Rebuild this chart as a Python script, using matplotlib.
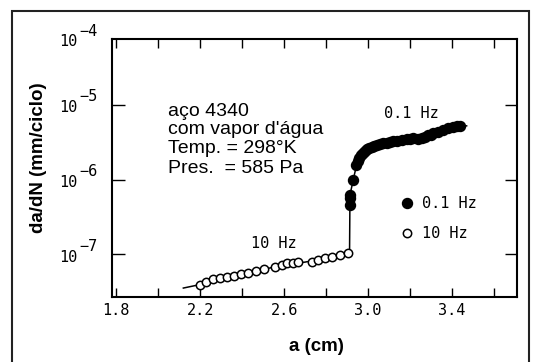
import matplotlib
matplotlib.use("Agg")
import matplotlib.pyplot as plt
from matplotlib.patches import Rectangle
from matplotlib.lines import Line2D

# Dados (a em cm, da/dN em mm/ciclo)
a_10hz = [2.197, 2.229, 2.263, 2.295, 2.330, 2.363, 2.395, 2.430, 2.467, 2.505, 2.557,
          2.589, 2.616, 2.644, 2.668, 2.732, 2.763, 2.795, 2.827, 2.867, 2.906]
v_10hz = [3.83e-8, 4.26e-8, 4.58e-8, 4.81e-8, 4.97e-8, 5.13e-8, 5.35e-8, 5.61e-8, 5.91e-8,
          6.24e-8, 6.64e-8, 7.13e-8, 7.50e-8, 7.64e-8, 7.88e-8, 7.88e-8, 8.31e-8, 8.75e-8,
          9.2e-8, 9.7e-8, 1.02e-7]

a_01hz = [2.912, 2.913, 2.915, 2.930, 2.943, 2.950, 2.959, 2.968, 2.978, 2.986, 2.994,
          3.006, 3.018, 3.030, 3.041, 3.057, 3.073, 3.089, 3.105, 3.121, 3.137, 3.160,
          3.184, 3.200, 3.215, 3.236, 3.256, 3.272, 3.286, 3.300, 3.311, 3.335, 3.358,
          3.382, 3.406, 3.422, 3.438]
v_01hz = [4.5e-7, 5.6e-7, 6.2e-7, 9.8e-7, 1.56e-6, 1.75e-6, 1.92e-6, 2.1e-6, 2.24e-6,
          2.4e-6, 2.53e-6, 2.65e-6, 2.74e-6, 2.82e-6, 2.89e-6, 2.97e-6, 3.05e-6, 3.12e-6,
          3.20e-6, 3.25e-6, 3.30e-6, 3.38e-6, 3.45e-6, 3.50e-6, 3.56e-6, 3.52e-6, 3.56e-6,
          3.70e-6, 3.94e-6, 4.0e-6, 4.15e-6, 4.35e-6, 4.59e-6, 4.85e-6, 5.08e-6, 5.15e-6,
          5.2e-6]

# curva ajustada
curve_a = [2.12, 2.20, 2.30, 2.40, 2.50, 2.60, 2.70, 2.80, 2.912, 2.914, 2.930, 2.945,
           2.960, 2.980, 3.00, 3.05, 3.10, 3.20, 3.26, 3.30, 3.36, 3.40, 3.47]
curve_v = [3.5e-8, 3.9e-8, 4.8e-8, 5.35e-8, 6.2e-8, 7.2e-8, 7.8e-8, 8.8e-8, 1.02e-7,
           6.2e-7, 1.0e-6, 1.55e-6, 1.95e-6, 2.25e-6, 2.55e-6, 2.9e-6, 3.15e-6, 3.45e-6,
           3.6e-6, 3.95e-6, 4.55e-6, 5.0e-6, 5.25e-6]

x_ticks = [1.8, 2.0, 2.2, 2.4, 2.6, 2.8, 3.0, 3.2, 3.4, 3.6]
x_labels = ["1.8", "", "2.2", "", "2.6", "", "3.0", "", "3.4", ""]
y_decades = [1e-5, 1e-6, 1e-7]
y_exps = ["\u22125", "\u22126", "\u22127"]

info_lines = ["aço 4340", "com vapor d'água", "Temp. = 298°K", "Pres.  = 585 Pa"]

W, H = 536, 362
mono = "DejaVu Sans Mono"
sans = "Liberation Sans"


def px(x, y):
    """Converte pixels (origem no topo) em fração da figura."""
    return x / W, 1 - y / H


fig = plt.figure(figsize=(W / 100, H / 100), dpi=100)
ax = fig.add_axes([112 / W, 1 - 297 / H, (517 - 112) / W, (297 - 39) / H])

ax.set_yscale("log")
ax.set_xlim(1.78, 3.71)
ax.set_ylim(10 ** -7.576, 10 ** -4.115)

ax.plot(curve_a, curve_v, color="black", lw=1.1, zorder=2)
ax.plot(a_10hz, v_10hz, "o", ms=6.0, mfc="white", mec="black", mew=1.1, zorder=3)
ax.plot(a_01hz, v_01hz, "o", ms=7.2, mfc="black", mec="black", zorder=3)

for sp in ax.spines.values():
    sp.set_linewidth(1.5)

ax.set_xticks(x_ticks, x_labels, fontfamily=mono, fontsize=11)
ax.tick_params(axis="x", direction="in", length=6.5, width=1.0, top=True, pad=4)
ax.set_yticks(y_decades, ["", "", ""])
ax.yaxis.set_minor_locator(matplotlib.ticker.NullLocator())
ax.tick_params(axis="y", which="major", direction="in", length=9, width=1.0, right=True)

# rótulos 10^n com expoente do mesmo tamanho
for val, ex in zip(y_decades, y_exps):
    ax.annotate("10", xy=(0, val), xycoords=("axes fraction", "data"), xytext=(-35, -3),
                textcoords="offset pixels", ha="right", va="center", fontfamily=mono, fontsize=11)
    ax.annotate(ex, xy=(0, val), xycoords=("axes fraction", "data"), xytext=(-33, 8),
                textcoords="offset pixels", ha="left", va="center", fontfamily=mono, fontsize=11)
ax.annotate("10", xy=(0, 1), xycoords="axes fraction", xytext=(-35, -3),
            textcoords="offset pixels", ha="right", va="center", fontfamily=mono, fontsize=11)
ax.annotate("\u22124", xy=(0, 1), xycoords="axes fraction", xytext=(-33, 7),
            textcoords="offset pixels", ha="left", va="center", fontfamily=mono, fontsize=11)

ax.set_xlabel("a (cm)", fontfamily=sans, fontweight="bold", fontsize=13.5)
ax.xaxis.set_label_coords(0.506, -0.159)
ax.set_ylabel("da/dN (mm/ciclo)", fontfamily=sans, fontweight="bold", fontsize=13.5)
ax.yaxis.set_label_coords(-0.160, 0.539)

ax.text(3.205, 7.8e-6, "0.1 Hz", ha="center", va="center", fontfamily=mono, fontsize=11)
ax.text(2.552, 1.4e-7, "10 Hz", ha="center", va="center", fontfamily=mono, fontsize=11)

for txt, yb in zip(info_lines, [116, 134, 153, 173]):
    fig.text(*px(168, yb), txt, ha="left", va="baseline", fontfamily=sans, fontsize=14)

handles = [Line2D([], [], marker="o", ls="none", ms=7.2, mfc="black", mec="black"),
           Line2D([], [], marker="o", ls="none", ms=6.0, mfc="white", mec="black", mew=1.1)]
ax.legend(handles, ["0.1 Hz", "10 Hz"], loc="upper left", bbox_to_anchor=(0.709, 0.391),
          frameon=False, borderpad=0, borderaxespad=0, handlelength=1.0,
          handletextpad=0.5, labelspacing=1.0, prop={"family": mono, "size": 11})

# moldura externa
fig.patches.append(Rectangle(px(12, 364), (529 - 12) / W, (364 - 11) / H,
                             transform=fig.transFigure, fill=False, lw=1.5, ec="#222222"))

fig.savefig("out.png", dpi=100)
